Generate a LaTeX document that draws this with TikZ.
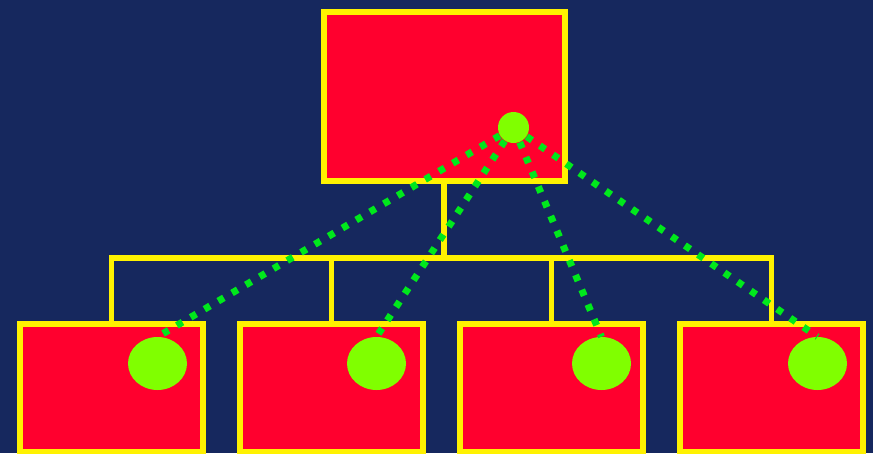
\documentclass[tikz,border=0pt]{standalone}
\usepackage{xcolor}
\usetikzlibrary{shapes.geometric, positioning, calc}

\definecolor{navybg}{RGB}{22,40,94}
\definecolor{boxred}{RGB}{255,0,46}
\definecolor{limeball}{RGB}{128,255,0}
\definecolor{linkgreen}{RGB}{0,232,28}

\begin{document}
\begin{tikzpicture}[
    x=1pt, y=-1pt,
    % Define specific node styles
    box_node/.style={rectangle, draw=yellow, fill=boxred, line width=6pt, minimum width=183pt, minimum height=128pt, inner sep=0pt},
    top_node/.style={box_node, minimum width=241pt, minimum height=169pt},
    ball_node/.style={ellipse, fill=limeball, draw=none, minimum width=59pt, minimum height=53pt, inner sep=0pt},
    tree_line/.style={draw=yellow, line width=5.5pt},
    link_line/.style={draw=linkgreen, line width=7pt, dash pattern=on 6.5pt off 9.5pt},
]

% Background
\fill[navybg] (0,0) rectangle (873,453);
\useasboundingbox (0,0) rectangle (873,453);

% Nodes Top Box
\node[top_node] (top) at (444,96) {};

% Nodes Bottom Row
\node[box_node] (b1) at (111.5,388) {};
\node[box_node] (b2) at (331.5,388) {};
\node[box_node] (b3) at (551.5,388) {};
\node[box_node] (b4) at (771.5,388) {};

% Tree connections
\coordinate (bus) at (444,258);
\draw[tree_line] (top.south) -- (bus);
\draw[tree_line] (bus) -| (b1.north);
\draw[tree_line] (bus) -| (b2.north);
\draw[tree_line] (bus) -| (b3.north);
\draw[tree_line] (bus) -| (b4.north);

% Balls
\node[ball_node] (ball1) at (157.5,363.5) {};
\node[ball_node] (ball2) at (376.5,363.5) {};
\node[ball_node] (ball3) at (601.5,363.5) {};
\node[ball_node] (ball4) at (817.5,363.5) {};

% Dotted links
\coordinate (hub) at (513.5,127.5);
\draw[link_line] (hub) -- (ball1.north);
\draw[link_line] (hub) -- (ball2.north);
\draw[link_line] (hub) -- (ball3.north);
\draw[link_line] (hub) -- (ball4.north);

\node[ball_node, minimum width=31pt, minimum height=31pt] (dot) at (hub) {};

\end{tikzpicture}
\end{document}
